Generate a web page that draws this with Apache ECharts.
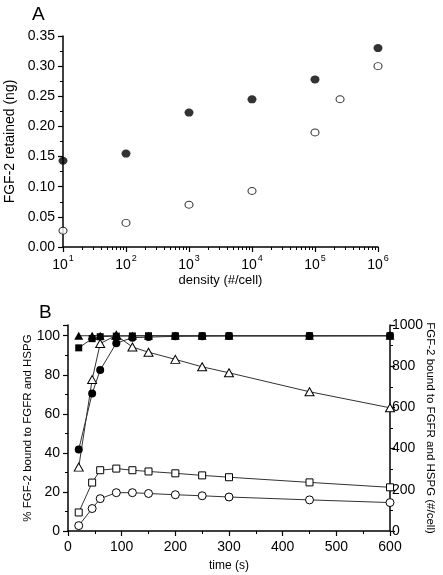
<!DOCTYPE html>
<html><head><meta charset="utf-8">
<script src="https://cdn.jsdelivr.net/npm/echarts@6/dist/echarts.min.js"></script>
<style>html,body{margin:0;padding:0;background:#fff}#c{width:443px;height:575px}</style>
</head><body><div id="c"></div>
<script>
// Panel A
const densityA = [10, 100, 1000, 10000, 100000, 1000000];
const retainedFilled = [0.143, 0.155, 0.223, 0.245, 0.278, 0.330];
const densityOpen = [10, 100, 1000, 10000, 100000, 250000, 1000000];
const retainedOpen = [0.027, 0.040, 0.070, 0.093, 0.190, 0.245, 0.300];
// Panel B
const timeB = [20, 45, 60, 90, 120, 150, 200, 250, 300, 450, 600];
const pctTriangle = [100, 100, 100, 100, 100, 100, 100, 100, 100, 100, 100];
const pctSquare = [93.8, 98.5, 99.5, 99.8, 99.9, 100, 100, 100, 100, 100, 100];
const pctCircle = [41.7, 70.4, 82.4, 96.2, 99.0, 99.3, 99.7, 99.8, 99.9, 99.9, 100];
const numTriangle = [310, 735, 910, 950, 893, 868, 833, 797, 768, 676, 598];
const numSquare = [90, 235, 295, 303, 295, 289, 280, 270, 261, 236, 212];
const numCircle = [26, 109, 157, 186, 186, 182, 176, 171, 165, 151, 138];

const minorLog = [];
for (let d = 10; d < 1000000; d *= 10) for (let k = 2; k <= 9; k++) minorLog.push(d * k);

const FONT = 'Liberation Sans, Arial, sans-serif';
const pair = (xs, ys) => xs.map((x, i) => [x, ys[i]]);
const axisLineS = {show: true, lineStyle: {color: '#000', width: 1.5}};
const lbl = {color: '#000', fontSize: 14, fontFamily: FONT};
const nameS = {color: '#000', fontSize: 13, fontFamily: FONT};
const nameA = {color: '#000', fontSize: 14, fontFamily: FONT};
const nameB = {color: '#000', fontSize: 11.5, fontFamily: FONT};
const nameBx = {color: '#000', fontSize: 12, fontFamily: FONT};

const chart = echarts.init(document.getElementById('c'), null, {renderer: 'canvas'});
chart.setOption({
  animation: false,
  backgroundColor: '#fff',
  title: [
    {text: 'A', left: 27, top: 0, textStyle: {fontSize: 19, fontWeight: 'normal', fontFamily: FONT, color: '#000'}},
    {text: 'B', left: 34, top: 298, textStyle: {fontSize: 19, fontWeight: 'normal', fontFamily: FONT, color: '#000'}}
  ],
  grid: [
    {left: 63, right: 65, top: 36, height: 211, outerBoundsMode: 'none', containLabel: false},
    {left: 68, right: 53, top: 325, height: 206, outerBoundsMode: 'none', containLabel: false}
  ],
  xAxis: [
    {gridIndex: 0, type: 'log', logBase: 10, min: 10, max: 1000000,
     name: 'density (#/cell)', nameLocation: 'middle', nameGap: 27, nameMoveOverlap: false, nameTextStyle: nameS,
     axisLine: axisLineS, splitLine: {show: false},
     axisTick: {show: true, length: 5, lineStyle: {color: '#000', width: 1.2}},
     axisLabel: {margin: 7, color: '#000', fontFamily: FONT,
       formatter: v => '{b|10}{s|' + Math.round(Math.log10(v)) + '}',
       rich: {b: {fontSize: 14, fontFamily: FONT, color: '#000', lineHeight: 18, verticalAlign: 'bottom'},
              s: {fontSize: 9, fontFamily: FONT, color: '#000', lineHeight: 18, verticalAlign: 'top', padding: [0, 0, 0, 1]}}}},
    {gridIndex: 0, type: 'log', logBase: 10, min: 10, max: 1000000, position: 'bottom',
     axisLine: {show: true, lineStyle: {color: 'rgba(0,0,0,0)'}}, splitLine: {show: false},
     axisTick: {show: true, length: 3, lineStyle: {color: '#000', width: 1}, customValues: minorLog},
     axisLabel: {show: false}},
    {gridIndex: 1, type: 'value', min: 0, max: 600, interval: 100,
     name: 'time (s)', nameLocation: 'middle', nameGap: 29, nameMoveOverlap: false, nameTextStyle: nameBx,
     axisLine: axisLineS, splitLine: {show: false},
     axisTick: {length: 5, lineStyle: {color: '#000', width: 1.2}},
     minorTick: {show: true, splitNumber: 2, length: 3, lineStyle: {color: '#000'}},
     axisLabel: Object.assign({margin: 9}, lbl)}
  ],
  yAxis: [
    {gridIndex: 0, type: 'value', min: 0, max: 0.35, interval: 0.05,
     name: 'FGF-2 retained (ng)', nameLocation: 'middle', nameGap: 46, nameMoveOverlap: false, nameRotate: 90, nameTextStyle: nameA,
     axisLine: axisLineS, splitLine: {show: false},
     axisTick: {length: 5, lineStyle: {color: '#000', width: 1.2}},
     minorTick: {show: true, splitNumber: 2, length: 3, lineStyle: {color: '#000'}},
     axisLabel: Object.assign({margin: 8, formatter: v => v.toFixed(2)}, lbl)},
    {gridIndex: 1, type: 'value', min: 0, max: 105.5, interval: 20,
     name: '% FGF-2 bound to FGFR and HSPG', nameLocation: 'middle', nameGap: 34, nameMoveOverlap: false, nameRotate: 90, nameTextStyle: nameB,
     axisLine: axisLineS, splitLine: {show: false},
     axisTick: {length: 5, lineStyle: {color: '#000', width: 1.2}},
     minorTick: {show: true, splitNumber: 2, length: 3, lineStyle: {color: '#000'}},
     axisLabel: Object.assign({margin: 8, showMaxLabel: false}, lbl)},
    {gridIndex: 1, type: 'value', min: 0, max: 1000, interval: 200, position: 'right',
     name: 'FGF-2 bound to FGFR and HSPG (#/cell)', nameLocation: 'middle', nameGap: 34, nameMoveOverlap: false, nameRotate: -90, nameTextStyle: nameB,
     axisLine: axisLineS, splitLine: {show: false},
     axisTick: {length: 5, lineStyle: {color: '#000', width: 1.2}},
     minorTick: {show: true, splitNumber: 2, length: 3, lineStyle: {color: '#000'}},
     axisLabel: Object.assign({margin: 2, formatter: v => String(v)}, lbl)}
  ],
  series: [
    {type: 'scatter', xAxisIndex: 0, yAxisIndex: 0, data: pair(densityA, retainedFilled),
     symbol: 'circle', symbolSize: [9, 8], itemStyle: {color: '#000'}},
    {type: 'scatter', xAxisIndex: 0, yAxisIndex: 0, data: pair(densityOpen, retainedOpen),
     symbol: 'circle', symbolSize: [8, 7], itemStyle: {color: '#fff', borderColor: '#000', borderWidth: 1}},
    {type: 'line', xAxisIndex: 2, yAxisIndex: 2, data: pair(timeB, numCircle),
     symbol: 'circle', symbolSize: 8, showAllSymbol: true, lineStyle: {color: '#333', width: 1},
     itemStyle: {color: '#fff', borderColor: '#000', borderWidth: 1}},
    {type: 'line', xAxisIndex: 2, yAxisIndex: 2, data: pair(timeB, numSquare),
     symbol: 'rect', symbolSize: 7, showAllSymbol: true, lineStyle: {color: '#333', width: 1},
     itemStyle: {color: '#fff', borderColor: '#000', borderWidth: 1}},
    {type: 'line', xAxisIndex: 2, yAxisIndex: 2, data: pair(timeB, numTriangle),
     symbol: 'triangle', symbolSize: [9, 8], showAllSymbol: true, lineStyle: {color: '#333', width: 1},
     itemStyle: {color: '#fff', borderColor: '#000', borderWidth: 1}},
    {type: 'line', xAxisIndex: 2, yAxisIndex: 1, data: pair(timeB, pctTriangle),
     symbol: 'triangle', symbolSize: [9, 8], showAllSymbol: true, lineStyle: {color: '#333', width: 1},
     itemStyle: {color: '#000'}},
    {type: 'line', xAxisIndex: 2, yAxisIndex: 1, data: pair(timeB, pctSquare),
     symbol: 'rect', symbolSize: 7, showAllSymbol: true, lineStyle: {color: '#333', width: 1},
     itemStyle: {color: '#000'}},
    {type: 'line', xAxisIndex: 2, yAxisIndex: 1, data: pair(timeB, pctCircle),
     symbol: 'circle', symbolSize: 8, showAllSymbol: true, lineStyle: {color: '#333', width: 1},
     itemStyle: {color: '#000'}}
  ]
});
</script></body></html>
